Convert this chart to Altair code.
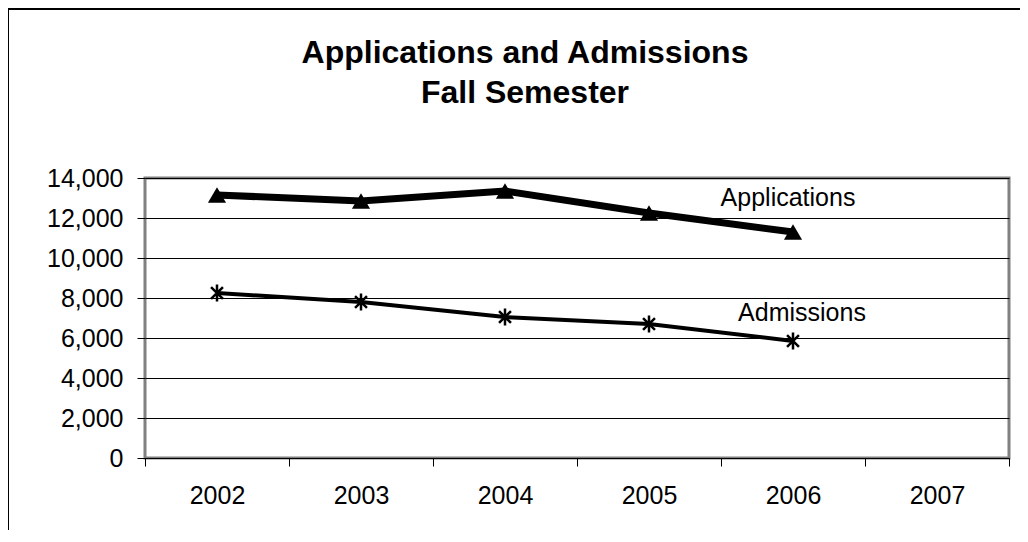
import altair as alt
import pandas as pd

years = ["2002", "2003", "2004", "2005", "2006", "2007"]
data_years = ["2002", "2003", "2004", "2005", "2006"]
applications = [13150, 12850, 13350, 12250, 11300]
admissions = [8250, 7800, 7050, 6700, 5850]
label_names = ["Applications", "Admissions"]
label_years = ["2006", "2006"]
label_values = [13000, 7250]

FONT = "Liberation Sans"

df = pd.DataFrame({
    "year": data_years * 2,
    "value": applications + admissions,
    "series": ["Applications"] * len(data_years) + ["Admissions"] * len(data_years),
})
app_df = df[df.series == "Applications"]
adm_df = df[df.series == "Admissions"]
lab_df = pd.DataFrame({"name": label_names, "year": label_years, "value": label_values})

xenc = alt.X(
    "year:O",
    scale=alt.Scale(type="band", domain=years, paddingInner=0, paddingOuter=0),
    axis=alt.Axis(
        title=None, tickBand="extent", labelAngle=0, labelFont=FONT, labelFontSize=25,
        labelColor="black", tickColor="black", tickSize=8, labelPadding=17,
        domainColor="black", domainWidth=1, grid=False,
    ),
)
yenc = alt.Y(
    "value:Q",
    scale=alt.Scale(domain=[0, 14000], nice=False),
    axis=alt.Axis(
        title=None, values=list(range(0, 14001, 2000)), format=",.0f",
        labelFont=FONT, labelFontSize=25, labelColor="black", tickColor="black",
        tickSize=8, labelPadding=14, domain=False, grid=True, gridColor="black",
        gridWidth=1, gridOpacity=1,
    ),
)

border = alt.Chart(pd.DataFrame({"a": [0]})).mark_rect(
    fill=None, stroke="black", strokeWidth=2
).encode(
    x=alt.value(-137), x2=alt.value(950), y=alt.value(-169), y2=alt.value(420)
)

app_line = alt.Chart(app_df).mark_line(color="black", strokeWidth=7).encode(x=xenc, y=yenc)
app_pts = alt.Chart(app_df).mark_point(
    shape="triangle-up", filled=True, color="black", size=330, opacity=1
).encode(x=xenc, y=yenc)
adm_line = alt.Chart(adm_df).mark_line(color="black", strokeWidth=4).encode(x=xenc, y=yenc)
adm_pts = alt.Chart(adm_df).mark_point(
    shape="M-0.7,-0.7L0.7,0.7M-0.7,0.7L0.7,-0.7M0,-1L0,1",
    filled=False, color="black", strokeWidth=2.5, size=290, opacity=1
).encode(x=xenc, y=yenc)
app_label = alt.Chart(lab_df[lab_df.name == "Applications"]).mark_text(
    font=FONT, fontSize=25, color="black", dx=-5
).encode(x=xenc, y=yenc, text="name:N")
adm_label = alt.Chart(lab_df[lab_df.name == "Admissions"]).mark_text(
    font=FONT, fontSize=25, color="black", dx=9
).encode(x=xenc, y=yenc, text="name:N")

chart = alt.layer(border, app_line, adm_line, app_pts, adm_pts, app_label, adm_label).properties(
    width=864,
    height=280,
    padding={"left": 137, "top": 170, "right": 11, "bottom": 72},
    autosize=alt.AutoSizeParams(type="none"),
    title=alt.TitleParams(
        text=["Applications and Admissions", "Fall Semester"],
        font=FONT, fontSize=32, fontWeight="bold", color="black",
        lineHeight=40, anchor="middle", dx=-52, offset=-102,
    ),
).configure_view(stroke="#808080", strokeWidth=3)

chart.save("out.html", embed_options={"renderer": "svg", "actions": False})
